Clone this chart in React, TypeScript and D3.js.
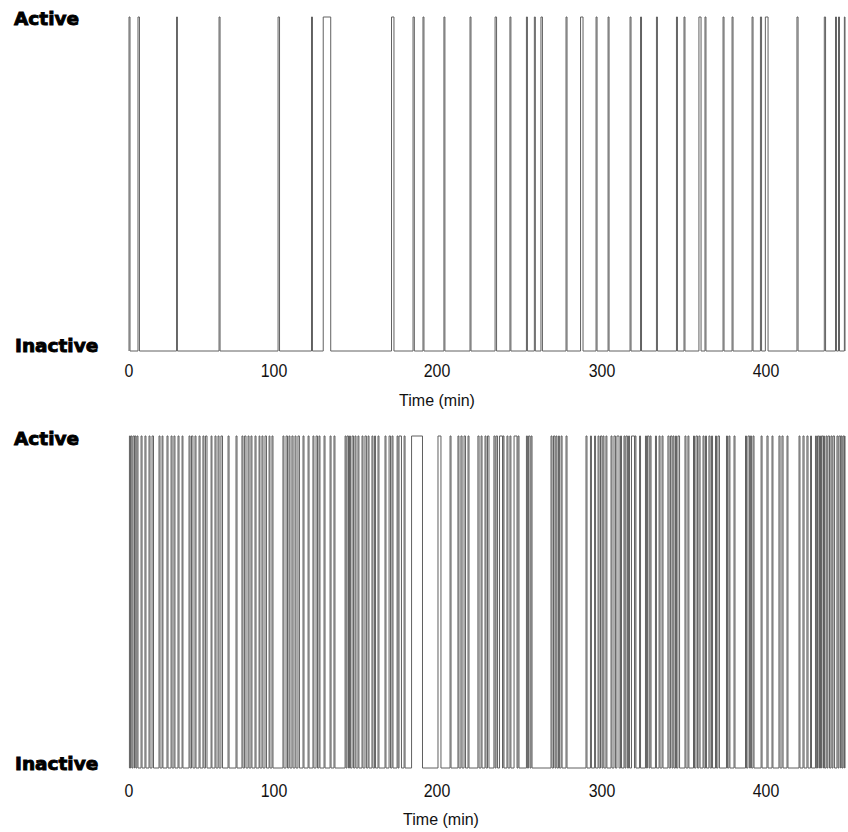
import React from "react";
import * as d3 from "d3";

// ---- data (minutes) ----
const TIME_BREAKS = [0, 100, 200, 300, 400, 450];
const TICKS = [0, 100, 200, 300, 400];
const STATE_LABELS = ["Inactive", "Active"];
const AXIS_TITLE = "Time (min)";

// active intervals [start, end] in minutes, top recording
const topPulses: [number, number][] = [
  [0.0, 0.7], [6.2, 7.2], [32.8, 33.4], [62.1, 62.8], [102.5, 103.4],
  [123.0, 123.6], [130.2, 134.8], [172.1, 173.6], [185.3, 186.1], [191.4, 192.0],
  [204.2, 204.8], [220.0, 220.6], [235.2, 236.1], [244.2, 244.8], [254.2, 254.8],
  [259.0, 259.6], [263.0, 263.9], [278.2, 278.8], [287.0, 288.5], [296.4, 297.0],
  [303.7, 304.3], [317.1, 317.7], [323.5, 324.1], [333.2, 333.8], [345.4, 346.0],
  [350.0, 350.6], [359.1, 360.4], [362.8, 363.4], [373.8, 374.4], [379.3, 379.9],
  [391.5, 392.1], [396.6, 397.3], [399.6, 401.3], [419.6, 420.3], [436.9, 437.7],
  [444.0, 444.6], [445.9, 446.5], [449.6, 450.0],
];

// active intervals [start, end] in minutes, bottom recording
const bottomPulses: [number, number][] = [
  [0.3, 1.0], [1.4, 2.1], [2.8, 3.8], [4.1, 4.8], [5.5, 6.2], [8.3, 9.0],
  [11.0, 11.7], [13.8, 14.5], [15.9, 16.9], [20.7, 21.4], [22.8, 23.4], [26.2, 26.9],
  [29.0, 29.7], [31.0, 31.7], [33.8, 34.5], [36.6, 37.2], [41.4, 42.1], [43.1, 44.1],
  [45.5, 46.2], [48.3, 49.0], [51.0, 51.7], [52.8, 53.8], [56.6, 57.2], [59.3, 60.0],
  [61.4, 62.1], [63.4, 64.5], [68.3, 69.0], [73.8, 74.5], [77.9, 78.6], [79.7, 80.7],
  [82.1, 82.8], [84.1, 84.8], [86.9, 87.6], [89.7, 90.3], [91.7, 92.4], [93.8, 94.8],
  [96.6, 97.2], [98.6, 99.3],
  [105.5, 106.1], [107.4, 108.3], [109.2, 109.8], [111.0, 111.7], [112.9, 113.5],
  [114.7, 115.6], [117.8, 118.4], [120.9, 121.5], [123.9, 124.5], [125.8, 126.7],
  [127.6, 128.2], [130.7, 131.3], [134.4, 135.0], [136.8, 137.4], [143.6, 144.2],
  [144.8, 145.7], [146.3, 146.9], [147.9, 148.8], [149.7, 150.3], [151.5, 152.1],
  [154.0, 154.6], [155.8, 156.7], [157.7, 158.3], [160.1, 160.7], [161.7, 162.3],
  [163.8, 164.4], [168.1, 168.7], [170.6, 171.5], [172.4, 173.0], [175.5, 176.1],
  [176.7, 178.2], [179.8, 180.4], [184.4, 191.1],
  [200.6, 202.4], [207.9, 208.5], [212.7, 213.3], [214.5, 215.2], [216.4, 217.3],
  [218.8, 219.4], [224.8, 225.5], [226.7, 227.3], [229.1, 229.7], [230.6, 231.5],
  [234.5, 235.2], [235.8, 236.7], [237.9, 239.7], [240.0, 240.6], [242.4, 243.0],
  [244.2, 244.8], [246.7, 248.5], [249.1, 249.7], [254.2, 254.8], [255.5, 256.4],
  [257.0, 257.6], [269.1, 269.7], [270.6, 271.5], [272.1, 272.7], [273.6, 274.2],
  [275.2, 275.8], [278.2, 278.8], [290.3, 290.9], [293.0, 293.6], [295.5, 296.1],
  [297.6, 298.2], [299.1, 300.0],
  [300.6, 301.2], [302.4, 303.0], [305.5, 306.1], [307.3, 308.2], [309.1, 310.4],
  [311.3, 311.9], [313.4, 314.0], [314.6, 315.5], [316.2, 316.8], [318.0, 319.8],
  [320.1, 320.7], [322.9, 323.5], [326.5, 327.1], [327.7, 328.7], [329.3, 329.9],
  [332.6, 333.2], [334.8, 335.4], [336.6, 337.2], [340.2, 340.9], [341.8, 342.7],
  [343.3, 343.9], [344.8, 345.4], [346.3, 347.3], [350.6, 351.2], [352.4, 353.0],
  [355.8, 356.4], [357.3, 358.2], [359.1, 359.8], [361.6, 362.2], [363.1, 363.7],
  [365.2, 365.9], [366.8, 367.4], [369.2, 369.8], [370.7, 371.6], [375.9, 376.5],
  [377.4, 378.0], [380.5, 381.1], [387.5, 388.1], [389.0, 390.0], [390.5, 391.2],
  [392.1, 392.7], [397.0, 397.6],
  [400.6, 401.3], [403.8, 404.4], [408.2, 408.9], [410.1, 410.8], [413.3, 413.9],
  [420.9, 421.5], [423.4, 424.1], [425.9, 426.6], [428.2, 428.8], [431.3, 431.9],
  [432.6, 433.5], [433.9, 434.5], [435.1, 436.1], [436.4, 437.0], [438.0, 438.6],
  [439.2, 440.2], [441.1, 441.8], [442.4, 443.4], [444.9, 445.6], [446.2, 447.2],
  [447.5, 448.1], [448.7, 449.4], [449.7, 450.0],
];

// ---- layout ----
const W = 848;
const H = 832;
const X_RANGE = [129, 274, 437, 602, 766, 845];

const panels = [
  { pulses: topPulses, yInactive: 351, yActive: 17, activeBase: 25, inactiveBase: 352, tickBase: 377, titleBase: 406, titleX: 437 },
  { pulses: bottomPulses, yInactive: 768, yActive: 436, activeBase: 445, inactiveBase: 770, tickBase: 797, titleBase: 825, titleX: 441 },
];

const labelFont = { fontFamily: "'DejaVu Sans', sans-serif", fontWeight: 700, fontSize: 18.5 };
const tickFont = { fontFamily: "'Liberation Sans', Arial, sans-serif" };

function Panel({ p, x }: { p: (typeof panels)[number]; x: d3.ScaleLinear<number, number> }) {
  const y = d3.scaleLinear().domain([0, 1]).range([p.yInactive, p.yActive]);
  const pts: [number, number][] = [[0, 0]];
  p.pulses.forEach(([s, e]) => {
    pts.push([s, 1]);
    pts.push([e, 0]);
  });
  pts.push([450, 0]);
  const line = d3
    .line<[number, number]>()
    .x((d) => x(d[0]))
    .y((d) => y(d[1]))
    .curve(d3.curveStepAfter);
  return (
    <g>
      <path d={line(pts) || ""} fill="none" stroke="#606060" strokeWidth={1} />
      <text x={14} y={p.activeBase} {...labelFont} fill="#000" stroke="#000" strokeWidth={0.9}>
        {STATE_LABELS[1]}
      </text>
      <text x={15} y={p.inactiveBase} {...labelFont} fill="#000" stroke="#000" strokeWidth={0.9}>
        {STATE_LABELS[0]}
      </text>
      {TICKS.map((t) => (
        <text
          key={t}
          transform={`translate(${x(t)},${p.tickBase}) scale(0.86,1)`}
          textAnchor="middle"
          {...tickFont}
          fontSize={18.5}
          fill="#111"
        >
          {t}
        </text>
      ))}
      <text x={p.titleX} y={p.titleBase} textAnchor="middle" {...tickFont} fontSize={16} fill="#111">
        {AXIS_TITLE}
      </text>
    </g>
  );
}

export default function App() {
  const x = d3.scaleLinear().domain(TIME_BREAKS).range(X_RANGE);
  return (
    <svg
      width={W}
      height={H}
      viewBox={`0 0 ${W} ${H}`}
      style={{ position: "absolute", left: 0, top: 0, background: "#fff" }}
    >
      <rect width={W} height={H} fill="#fff" />
      {panels.map((p, i) => (
        <Panel key={i} p={p} x={x} />
      ))}
    </svg>
  );
}
